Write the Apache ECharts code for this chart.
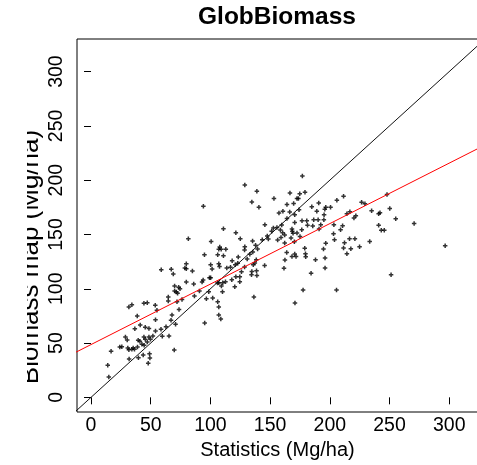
<!DOCTYPE html>
<html><head><meta charset="utf-8">
<script src="https://cdn.jsdelivr.net/npm/echarts@6/dist/echarts.min.js"></script>
<style>html,body{margin:0;padding:0;background:#fff}#c{width:477px;height:465px}</style>
</head><body><div id="c"></div>
<script>
// Tick labels
const xTicks = [0, 50, 100, 150, 200, 250, 300];
const yTicks = [0, 50, 100, 150, 200, 250, 300];
// Axis ranges (Mg/ha)
const xRange = [-11.75, 324.1];
const yRange = [-13.5, 330.0];
// Statistics (Mg/ha) vs Biomass map (Mg/ha)
const samples = [
[94.1,175.9],[81.5,146.0],[95.0,131.3],[79.8,123.0],[58.8,117.5],[67.2,117.9],[79.8,118.4],[78.6,119.2],[84.9,116.3],[68.9,113.5],
[177.0,203.8],[128.8,195.5],[138.9,189.7],[166.6,188.1],[179.2,188.8],[174.8,187.5],[134.7,179.8],[153.2,183.2],[172.5,183.2],[173.7,183.2],
[140.6,175.0],[164.1,177.7],[169.7,178.6],[184.9,175.5],[190.7,178.9],[160.7,171.3],[157.4,169.7],[166.4,170.6],[174.2,172.7],[189.1,171.3],
[195.8,173.1],[170.6,168.1],[164.1,164.8],[176.7,162.6],[180.7,162.6],[186.5,163.5],[190.2,163.5],[195.0,163.5],[195.2,168.1],[145.6,158.9],
[159.7,158.7],[170.6,161.1],[181.3,158.4],[185.7,157.7],[192.4,158.9],[110.9,155.2],[152.7,155.9],[155.7,156.5],[158.6,154.1],[168.3,155.0],
[168.6,152.9],[176.5,154.3],[121.3,151.6],[151.3,152.9],[160.5,151.6],[169.2,151.0],[172.5,151.3],[191.0,155.0],[147.6,148.5],[148.5,145.8],
[159.1,147.3],[162.2,149.4],[167.5,146.7],[175.0,148.2],[125.0,146.0],[100.6,143.6],[135.3,143.9],[143.4,145.1],[156.3,144.8],[162.2,142.1],
[170.3,143.3],[107.8,138.4],[107.0,136.3],[109.0,136.3],[112.9,136.3],[128.8,138.7],[137.8,140.0],[139.5,136.6],[128.6,135.6],[179.0,137.2],
[194.7,136.6],[106.1,131.3],[110.9,130.4],[135.5,133.8],[133.0,131.7],[163.9,133.5],[170.6,131.9],[168.3,129.8],[171.7,129.8],[179.6,132.2],
[118.2,125.8],[123.3,129.2],[130.8,127.3],[138.4,126.7],[162.4,126.4],[179.8,129.5],[188.0,126.7],[196.0,128.3],[100.2,122.1],[107.0,123.0],
[107.6,120.6],[120.8,122.1],[122.9,123.4],[137.2,123.7],[135.9,122.1],[128.6,120.0],[145.4,121.5],[101.4,118.1],[113.7,119.1],[116.8,119.7],
[126.0,115.7],[134.7,116.0],[138.6,116.6],[161.6,118.8],[184.3,114.2],[196.0,119.1],[134.4,112.9],[138.9,112.3],
[211.5,185.1],[205.9,181.4],[247.9,186.9],[226.6,179.6],[229.4,178.3],[196.6,175.0],[200.6,175.0],[235.0,171.8],[250.2,174.0],[216.8,170.9],
[214.3,169.1],[240.9,169.1],[242.0,170.0],[221.8,167.2],[220.2,165.1],[255.2,164.5],[203.4,158.9],[210.7,158.0],[240.9,158.4],[270.6,160.2],
[209.0,154.3],[243.1,153.8],[245.6,153.8],[203.1,150.6],[203.9,145.1],[216.5,146.0],[221.0,146.0],[196.6,141.8],[212.3,142.4],[233.4,143.6],
[211.5,137.5],[217.6,136.8],[224.9,138.7],[214.3,132.2],[296.6,139.6],[251.3,112.9],
[79.8,106.2],[86.0,104.3],[93.9,108.0],[93.0,106.2],[70.0,102.5],[73.4,101.3],[74.5,100.0],[70.0,97.9],[71.4,97.0],[72.5,95.8],
[90.8,97.9],[64.7,92.4],[64.7,88.7],[72.0,88.0],[76.2,90.2],[86.6,93.3],[34.2,85.3],[31.7,83.1],[44.3,86.6],[47.1,87.1],
[53.8,84.7],[55.2,80.1],[73.7,81.0],[38.7,74.9],[54.0,71.5],[67.8,75.8],[67.0,70.9],[70.8,67.2],[95.2,68.4],[41.2,66.6],
[36.7,63.2],[45.4,64.5],[48.5,63.5],[58.6,62.6],[62.8,65.0],[54.0,61.0],[28.8,55.5],[30.3,52.8],[39.5,52.5],[40.9,51.6],
[44.3,55.5],[45.4,53.4],[48.5,55.5],[49.8,53.4],[51.8,56.4],[59.7,56.2],[65.3,56.4],[47.1,50.9],[42.6,48.8],[44.5,47.9],
[24.1,46.3],[25.8,46.6],[30.8,45.4],[31.7,43.8],[35.3,45.4],[34.2,44.2],[36.4,44.2],[38.9,46.3],[16.8,42.4],[69.7,43.6],
[49.0,40.1],[31.9,35.3],[39.7,36.5],[43.7,39.0],[49.3,36.2],[47.9,31.3],[14.0,29.5],[14.9,18.7],
[99.2,110.1],[100.2,110.1],[105.9,105.2],[107.0,105.5],[110.3,105.5],[112.6,106.4],[109.2,102.5],[98.6,97.2],[110.1,97.2],[121.3,111.0],
[124.6,111.0],[117.9,108.3],[124.6,106.4],[120.4,101.8],[96.6,90.8],[101.9,91.4],[106.1,88.0],[107.0,83.1],[136.4,92.4],[177.6,98.8],
[170.8,86.8],[107.0,75.8],[108.7,72.1],[205.6,98.8]
];
// 1:1 reference line
const oneToOne = [[-20, -20], [340, 340]];
// Linear fit: map = intercept + slope * statistics
const fitIntercept = 48.6;
const fitSlope = 0.557;

const fitLine = [xRange[0] - 5, xRange[1] + 5].map(x => [x, fitIntercept + fitSlope * x]);
const FONT = '"Liberation Sans", Arial, sans-serif';
const plus = 'path://M1,0H2V1H3V2H2V3H1V2H0V1H1Z';

const chart = echarts.init(document.getElementById('c'), null, {renderer: 'canvas'});
chart.setOption({
  animation: false,
  backgroundColor: '#fff',
  grid: {left: 77, top: 39, width: 401, height: 373, show: true, borderColor: '#000', borderWidth: 1,
         backgroundColor: 'transparent', containLabel: false, outerBoundsMode: 'none'},
  xAxis: {
    type: 'value', min: xRange[0], max: xRange[1],
    splitLine: {show: false}, axisLine: {show: false},
    axisTick: {show: true, length: 7, inside: false, customValues: xTicks, lineStyle: {color: '#000', width: 1}},
    axisLabel: {customValues: xTicks, color: '#000', fontFamily: FONT, fontSize: 19.5, margin: 4},
    name: 'Statistics (Mg/ha)', nameLocation: 'middle', nameGap: 27,
    nameTextStyle: {color: '#000', fontFamily: FONT, fontSize: 20}
  },
  yAxis: {
    type: 'value', min: yRange[0], max: yRange[1],
    splitLine: {show: false}, axisLine: {show: false},
    axisTick: {show: true, length: 7, inside: false, customValues: yTicks, lineStyle: {color: '#000', width: 1}},
    axisLabel: {customValues: yTicks, rotate: 90, color: '#000', fontFamily: FONT, fontSize: 19.5, margin: 10}
  },
  series: [
    {type: 'scatter', data: samples, symbol: plus, symbolSize: 4.5, itemStyle: {color: '#000'}, silent: true},
    {type: 'line', data: oneToOne, symbol: 'none', clip: true, lineStyle: {color: '#111', width: 1}, silent: true},
    {type: 'line', data: fitLine, symbol: 'none', clip: true, lineStyle: {color: '#ff0000', width: 1}, silent: true}
  ],
  graphic: [
    {type: 'text', x: 277, y: 17, style: {text: 'GlobBiomass', font: 'bold 24.5px ' + FONT, fill: '#000', textAlign: 'center', textVerticalAlign: 'middle'}},
    {type: 'text', x: 30.5, y: 257, rotation: Math.PI / 2, style: {text: 'Biomass map (Mg/ha)', font: '26px ' + FONT, fill: '#000', textAlign: 'center', textVerticalAlign: 'middle'}},
    {type: 'rect', shape: {x: 0, y: 0, width: 27, height: 465}, style: {fill: '#fff'}, z: 100}
  ]
});
</script></body></html>
